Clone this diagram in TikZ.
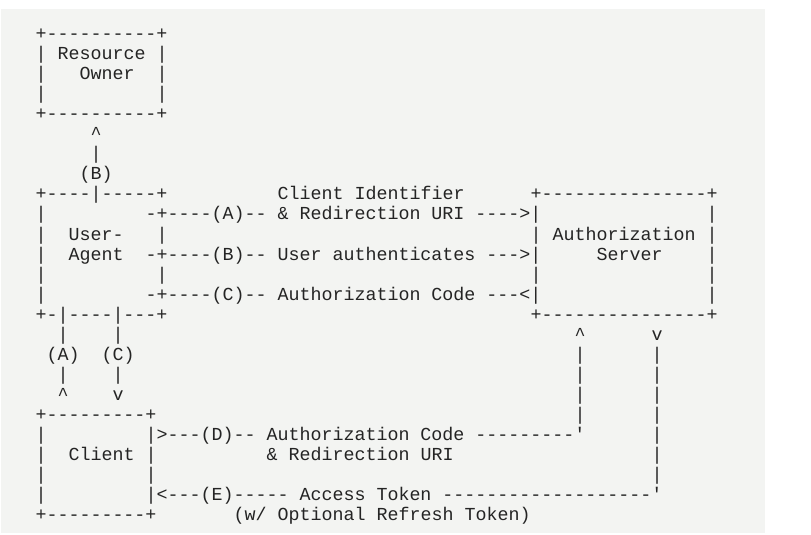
\documentclass[tikz,border=0pt]{standalone}
\usepackage{fontspec}
\setmonofont{Liberation Mono}
\definecolor{pagebg}{RGB}{243,244,242}
\definecolor{ink}{RGB}{36,36,36}
\tikzset{ascii/.style={anchor=base west,inner sep=0pt,outer sep=0pt,text=ink,
  font=\ttfamily\fontsize{13.75pt}{15pt}\selectfont}}
\begin{document}
\begin{tikzpicture}[x=8.25pt,y=-15pt]
\useasboundingbox (-3.2273,-2) rectangle (70.5,24.75);
\fill[pagebg] (-3.136,-1.55) rectangle (66.318,24.65);
\node[ascii] (r0a) at (0,0) {+----------+};
\node[ascii] (r1a) at (0,1) {|};
\node[ascii] (r1b) at (2,1) {Resource};
\node[ascii] (r1c) at (11,1) {|};
\node[ascii] (r2a) at (0,2) {|};
\node[ascii] (r2b) at (4,2) {Owner};
\node[ascii] (r2c) at (11,2) {|};
\node[ascii] (r3a) at (0,3) {|};
\node[ascii] (r3b) at (11,3) {|};
\node[ascii] (r4a) at (0,4) {+----------+};
\node[ascii] (r5a) at (5,5) {\textasciicircum};
\node[ascii] (r6a) at (5,6) {|};
\node[ascii] (r7a) at (4,7) {(B)};
\node[ascii] (r8a) at (0,8) {+----|-----+};
\node[ascii] (r8b) at (22,8) {Client Identifier};
\node[ascii] (r8c) at (45,8) {+---------------+};
\node[ascii] (r9a) at (0,9) {|};
\node[ascii] (r9b) at (10,9) {-+----(A)-- \& Redirection URI ---->|};
\node[ascii] (r9c) at (61,9) {|};
\node[ascii] (r10a) at (0,10) {|};
\node[ascii] (r10b) at (3,10) {User-};
\node[ascii] (r10c) at (11,10) {|};
\node[ascii] (r10d) at (45,10) {| Authorization |};
\node[ascii] (r11a) at (0,11) {|};
\node[ascii] (r11b) at (3,11) {Agent};
\node[ascii] (r11c) at (10,11) {-+----(B)-- User authenticates --->|};
\node[ascii] (r11d) at (51,11) {Server};
\node[ascii] (r11e) at (61,11) {|};
\node[ascii] (r12a) at (0,12) {|};
\node[ascii] (r12b) at (11,12) {|};
\node[ascii] (r12c) at (45,12) {|};
\node[ascii] (r12d) at (61,12) {|};
\node[ascii] (r13a) at (0,13) {|};
\node[ascii] (r13b) at (10,13) {-+----(C)-- Authorization Code ---<|};
\node[ascii] (r13c) at (61,13) {|};
\node[ascii] (r14a) at (0,14) {+-|----|---+};
\node[ascii] (r14b) at (45,14) {+---------------+};
\node[ascii] (r15a) at (2,15) {|};
\node[ascii] (r15b) at (7,15) {|};
\node[ascii] (r15c) at (49,15) {\textasciicircum};
\node[ascii] (r15d) at (56,15) {v};
\node[ascii] (r16a) at (1,16) {(A)};
\node[ascii] (r16b) at (6,16) {(C)};
\node[ascii] (r16c) at (49,16) {|};
\node[ascii] (r16d) at (56,16) {|};
\node[ascii] (r17a) at (2,17) {|};
\node[ascii] (r17b) at (7,17) {|};
\node[ascii] (r17c) at (49,17) {|};
\node[ascii] (r17d) at (56,17) {|};
\node[ascii] (r18a) at (2,18) {\textasciicircum};
\node[ascii] (r18b) at (7,18) {v};
\node[ascii] (r18c) at (49,18) {|};
\node[ascii] (r18d) at (56,18) {|};
\node[ascii] (r19a) at (0,19) {+---------+};
\node[ascii] (r19b) at (49,19) {|};
\node[ascii] (r19c) at (56,19) {|};
\node[ascii] (r20a) at (0,20) {|};
\node[ascii] (r20b) at (10,20) {|>---(D)-- Authorization Code ---------'};
\node[ascii] (r20c) at (56,20) {|};
\node[ascii] (r21a) at (0,21) {|};
\node[ascii] (r21b) at (3,21) {Client};
\node[ascii] (r21c) at (10,21) {|};
\node[ascii] (r21d) at (21,21) {\& Redirection URI};
\node[ascii] (r21e) at (56,21) {|};
\node[ascii] (r22a) at (0,22) {|};
\node[ascii] (r22b) at (10,22) {|};
\node[ascii] (r22c) at (56,22) {|};
\node[ascii] (r23a) at (0,23) {|};
\node[ascii] (r23b) at (10,23) {|<---(E)----- Access Token -------------------'};
\node[ascii] (r24a) at (0,24) {+---------+};
\node[ascii] (r24b) at (18,24) {(w/ Optional Refresh Token)};
\end{tikzpicture}
\end{document}
